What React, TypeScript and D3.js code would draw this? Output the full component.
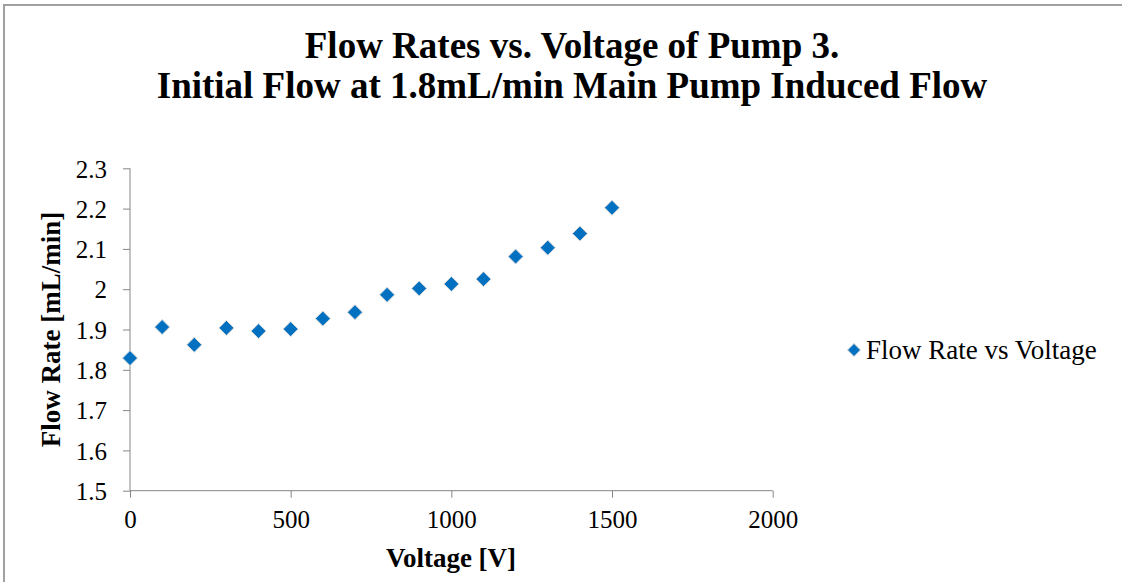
import React, { useEffect, useRef } from 'react'
import * as d3 from 'd3'

const voltages = [0, 100, 200, 300, 400, 500, 600, 700, 800, 900, 1000, 1100, 1200, 1300, 1400, 1500]
const flowRates = [1.829, 1.906, 1.862, 1.904, 1.896, 1.901, 1.927, 1.943, 1.986, 2.002, 2.013, 2.025, 2.081, 2.103, 2.138, 2.202]
const xTicks = [0, 500, 1000, 1500, 2000]
const yTicks = [1.5, 1.6, 1.7, 1.8, 1.9, 2, 2.1, 2.2, 2.3]
const titleLines = ['Flow Rates vs. Voltage of Pump 3.', 'Initial Flow at 1.8mL/min Main Pump Induced Flow']
const seriesName = 'Flow Rate vs Voltage'

export default function App() {
  const ref = useRef<SVGGElement | null>(null)
  const width = 1122
  const height = 582

  useEffect(() => {
    if (!ref.current) return
    const font = '"Liberation Serif", "Times New Roman", serif'
    const axisColor = '#868686'
    const markerColor = '#0070C0'

    const svg = d3.select(ref.current)

    const x = d3.scaleLinear().domain([0, 2000]).range([130, 772.7])
    const y = d3.scaleLinear().domain([1.5, 2.3]).range([490.7, 168.3])

    // title
    svg.append('text')
      .attr('text-anchor', 'middle')
      .attr('font-weight', 'bold')
      .attr('font-size', 37)
      .selectAll('tspan')
      .data(titleLines)
      .join('tspan')
      .attr('x', 572)
      .attr('y', (_d, i) => 58 + i * 40)
      .text((d) => d)

    // y axis
    const yAxis = svg.append('g')
      .attr('transform', `translate(${x(0)},0)`)
      .call(d3.axisLeft(y).tickValues(yTicks).tickSize(7).tickPadding(16).tickFormat((d) => d3.format('')(+d)))
      .attr('font-family', null)
      .attr('font-size', null)
    yAxis.select('.domain').attr('stroke', axisColor).attr('d', `M0,${y(2.3)}V${y(1.5)}`)
    yAxis.selectAll('.tick line').attr('stroke', axisColor)
    yAxis.selectAll('.tick text')
      .style('font-family', font).style('font-size', '25px').attr('fill', '#000').attr('dy', '0.35em')

    // x axis
    const xAxis = svg.append('g')
      .attr('transform', `translate(0,${y(1.5)})`)
      .call(d3.axisBottom(x).tickValues(xTicks).tickSize(7).tickFormat(d3.format('d')))
      .attr('font-family', null)
      .attr('font-size', null)
    xAxis.select('.domain').attr('stroke', axisColor).attr('d', `M${x(0)},0H${x(2000)}`)
    xAxis.selectAll('.tick line').attr('stroke', axisColor)
    xAxis.selectAll('.tick text')
      .style('font-family', font).style('font-size', '25px').attr('fill', '#000')
      .attr('y', 37).attr('dy', null)

    // axis titles
    svg.append('text')
      .attr('transform', `translate(60,${(y(1.5) + y(2.3)) / 2}) rotate(-90)`)
      .attr('text-anchor', 'middle')
      .attr('font-weight', 'bold')
      .attr('font-size', 27)
      .text('Flow Rate [mL/min]')

    svg.append('text')
      .attr('x', 451).attr('y', 567)
      .attr('text-anchor', 'middle')
      .attr('font-weight', 'bold')
      .attr('font-size', 27)
      .text('Voltage [V]')

    // markers
    const diamond = (r: number) => `M0,${-r}L${r},0L0,${r}L${-r},0Z`
    svg.append('g')
      .selectAll('path')
      .data(voltages.map((v, i) => [v, flowRates[i]]))
      .join('path')
      .attr('transform', (d) => `translate(${x(d[0])},${y(d[1])})`)
      .attr('d', diamond(7.5))
      .attr('fill', markerColor)
      .attr('stroke', '#d9d9d9')
      .attr('stroke-width', 1)

    // legend
    const legend = svg.append('g').attr('transform', 'translate(854,350)')
    legend.append('path').attr('d', diamond(6.5)).attr('fill', markerColor).attr('stroke', '#d9d9d9')
    legend.append('text')
      .attr('x', 12).attr('y', 9)
      .attr('font-size', 27)
      .text(seriesName)

    return () => {
      svg.selectAll('*').remove()
    }
  }, [])

  return (
    <svg
      width={width}
      height={height}
      style={{ display: 'block', position: 'absolute', left: 0, top: 0, fontFamily: '"Liberation Serif", "Times New Roman", serif' }}
    >
      <rect x={0} y={0} width={width} height={height} fill="#fff" />
      <path d={`M4,${height}V5H${width}`} fill="none" stroke="#a0a0a0" strokeWidth={2} />
      <g ref={ref} />
    </svg>
  )
}
